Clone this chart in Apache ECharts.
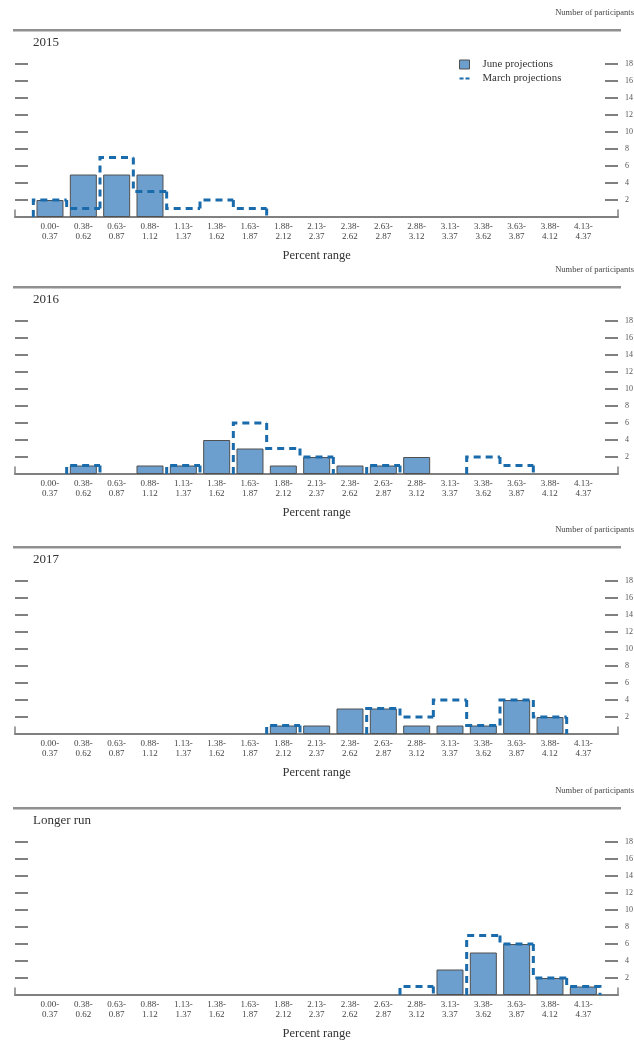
<!DOCTYPE html>
<html>
<head>
<meta charset="utf-8">
<title>Participants projections</title>
<script src="https://cdn.jsdelivr.net/npm/echarts@6/dist/echarts.min.js"></script>
<style>
html, body { margin: 0; padding: 0; background: #fff; }
#container { width: 634px; height: 1047px; }
</style>
</head>
<body>
<div id="container"></div>
<script>
// 区间标签
var bins = ['0.00-\n0.37', '0.38-\n0.62', '0.63-\n0.87', '0.88-\n1.12', '1.13-\n1.37',
    '1.38-\n1.62', '1.63-\n1.87', '1.88-\n2.12', '2.13-\n2.37', '2.38-\n2.62',
    '2.63-\n2.87', '2.88-\n3.12', '3.13-\n3.37', '3.38-\n3.62', '3.63-\n3.87',
    '3.88-\n4.12', '4.13-\n4.37'];

var panelNames = ['2015', '2016', '2017', 'Longer run'];

// June projections
var june2015 = [2, 5, 5, 5, 0, 0, 0, 0, 0, 0, 0, 0, 0, 0, 0, 0, 0];
var june2016 = [0, 1, 0, 1, 1, 4, 3, 1, 2, 1, 1, 2, 0, 0, 0, 0, 0];
var june2017 = [0, 0, 0, 0, 0, 0, 0, 1, 1, 3, 3, 1, 1, 1, 4, 2, 0];
var juneLonger = [0, 0, 0, 0, 0, 0, 0, 0, 0, 0, 0, 0, 3, 5, 6, 2, 1];

// March projections
var march2015 = [2, 1, 7, 3, 1, 2, 1, 0, 0, 0, 0, 0, 0, 0, 0, 0, 0];
var march2016 = [0, 1, 0, 0, 1, 0, 6, 3, 2, 0, 1, 0, 0, 2, 1, 0, 0];
var march2017 = [0, 0, 0, 0, 0, 0, 0, 1, 0, 0, 3, 2, 4, 1, 4, 2, 0];
var marchLonger = [0, 0, 0, 0, 0, 0, 0, 0, 0, 0, 0, 1, 0, 7, 6, 2, 1];

var juneData = [june2015, june2016, june2017, juneLonger];
var marchData = [march2015, march2016, march2017, marchLonger];

var dom = document.getElementById('container');
var myChart = echarts.init(dom);

var SERIF = 'Liberation Serif';
var baseY = [217, 474, 734, 995];   //每个面板的基线
var plotH = 153;                     //0-18
var dashColor = '#1a6bab';

//虚线阶梯
function renderStep(params, api) {
    var i = api.value(0);
    var v = api.value(1);
    var prev = api.value(2);
    if (!v && !prev) {
        return null;
    }
    var halfW = api.size([1, 0])[0] / 2;
    var c = api.coord([i, v]);
    var p = api.coord([i, prev]);
    var x0 = c[0] - halfW, x1 = c[0] + halfW;
    var pts = [[x0, p[1]], [x0, c[1]]];
    if (v > 0) {
        pts.push([x1, c[1]]);
        if (i === bins.length - 1) {
            pts.push([x1, api.coord([i, 0])[1]]);
        }
    }
    return {
        type: 'polyline',
        shape: { points: pts },
        style: { stroke: dashColor, lineWidth: 3, lineDash: [7, 5], fill: null }
    };
}

var grid = [], xAxis = [], yAxis = [], series = [], title = [], graphic = [];

panelNames.forEach(function (name, p) {
    var b = baseY[p];
    var gd = p * 2, gf = p * 2 + 1;

    grid.push({ left: 33.33, right: 34, top: b - plotH, height: plotH, outerBoundsMode: 'none' });
    grid.push({ left: 15, right: 16, top: b - 7, height: 7, outerBoundsMode: 'none' });

    xAxis.push({
        type: 'category', gridIndex: gd, data: bins,
        axisLine: { show: false }, axisTick: { show: false },
        axisLabel: { interval: 0, fontFamily: SERIF, fontSize: 9, color: '#444', lineHeight: 10, margin: 5 },
        name: 'Percent range', nameLocation: 'middle', nameGap: 32,
        nameTextStyle: { fontFamily: SERIF, fontSize: 12.5, color: '#333' }
    });
    xAxis.push({
        type: 'value', gridIndex: gf, min: 0, max: 1,
        axisLine: { show: true, onZero: false, lineStyle: { color: '#808080', width: 2 } },
        axisTick: { show: false }, axisLabel: { show: false }, splitLine: { show: false }
    });

    var tickStyle = { color: '#808080', width: 2 };
    yAxis.push({
        type: 'value', gridIndex: gd, position: 'left', offset: 18.33,
        min: 0, max: 18, interval: 2,
        axisLine: { show: false },
        axisTick: { show: true, inside: true, length: 13, lineStyle: tickStyle },
        axisLabel: { show: false }, splitLine: { show: false }
    });
    yAxis.push({
        type: 'value', gridIndex: gd, position: 'right', offset: 18,
        min: 0, max: 18, interval: 2,
        axisLine: { show: false },
        axisTick: { show: true, inside: true, length: 13, lineStyle: tickStyle },
        axisLabel: {
            margin: 7, fontFamily: SERIF, fontSize: 8, color: '#555',
            formatter: function (v) { return v === 0 ? '' : v; }
        },
        splitLine: { show: false }
    });
    [ 'left', 'right' ].forEach(function (pos) {
        yAxis.push({
            type: 'value', gridIndex: gf, position: pos, min: 0, max: 1,
            axisLine: { show: true, onZero: false, lineStyle: { color: '#808080', width: 1.5 } },
            axisTick: { show: false }, axisLabel: { show: false }, splitLine: { show: false }
        });
    });

    series.push({
        type: 'bar', name: 'June projections',
        xAxisIndex: gd, yAxisIndex: p * 4,
        data: juneData[p].map(function (v) { return v || '-'; }),
        barWidth: 27,
        itemStyle: { color: '#6c9fcd', borderColor: '#505050', borderWidth: 1 },
        silent: true
    });
    series.push({
        type: 'custom', name: 'March projections',
        xAxisIndex: gd, yAxisIndex: p * 4,
        data: marchData[p].map(function (v, i, a) { return [i, v, i ? a[i - 1] : 0]; }),
        encode: { x: 0, y: 1 },
        renderItem: renderStep,
        itemStyle: { color: dashColor },
        z: 5,
        silent: true
    });

    title.push({
        text: name, left: 33, top: b - 181, padding: 0,
        textStyle: { fontFamily: SERIF, fontSize: 13, fontWeight: 'normal', color: '#333' }
    });
    title.push({
        text: 'Number of participants', right: 0, top: b - 209, padding: 0,
        textStyle: { fontFamily: SERIF, fontSize: 8.5, fontWeight: 'normal', color: '#444' }
    });
    graphic.push({
        type: 'rect', left: 13, top: b - 188,
        shape: { width: 608, height: 2.5 },
        style: { fill: '#909090' }, silent: true
    });
});

option = {
    backgroundColor: '#fff',
    animation: false,
    title: title,
    legend: {
        orient: 'vertical', left: 459, top: 59, itemGap: 3,
        itemWidth: 10, itemHeight: 9, padding: 0,
        textStyle: { fontFamily: SERIF, fontSize: 10.8, color: '#333', padding: [0, 0, 0, 8] },
        data: [
            { name: 'June projections', icon: 'rect', itemStyle: { color: '#6c9fcd', borderColor: '#505050', borderWidth: 1 } },
            { name: 'March projections', icon: 'path://M0,0M0,9M0,3.5H4V5.5H0ZM6,3.5H10V5.5H6Z', itemStyle: { color: dashColor } }
        ]
    },
    grid: grid,
    xAxis: xAxis,
    yAxis: yAxis,
    series: series,
    graphic: graphic
};

if (option && typeof option === "object") {
    myChart.setOption(option, true);
}
</script>
</body>
</html>
